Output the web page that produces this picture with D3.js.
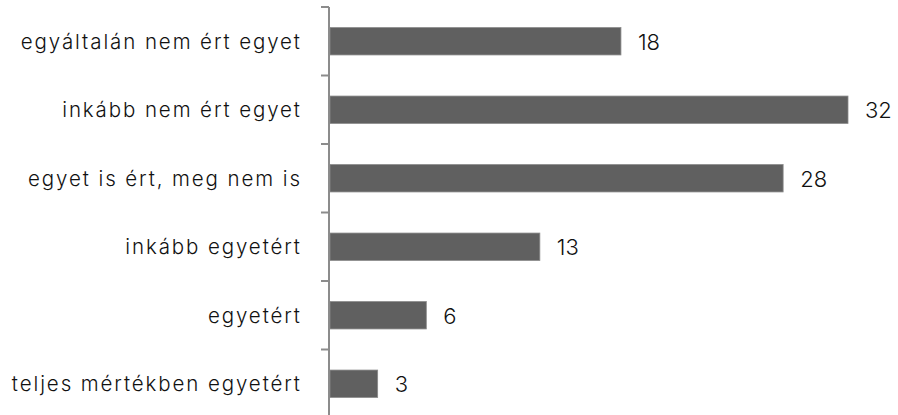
<!DOCTYPE html>
<html><head><meta charset="utf-8">
<script src="https://cdn.jsdelivr.net/npm/d3@7"></script>
<style>body{margin:0;background:#fff}svg{display:block}text{font-family:Inter,"Noto Sans",sans-serif;font-weight:300}</style>
</head><body>
<svg id="c" width="898" height="415"></svg>
<script>
const categories = ["egyáltalán nem ért egyet","inkább nem ért egyet","egyet is ért, meg nem is","inkább egyetért","egyetért","teljes mértékben egyetért"];
const values = [18,32,28,13,6,3];

const svg = d3.select("#c");
const axisX = 329;
const x = d3.scaleLinear().domain([0,32]).range([axisX, 848]);
const y = d3.scaleBand().domain(categories).range([7, 418]).paddingInner(0.6).paddingOuter(0.3);

svg.append("line").attr("x1",axisX).attr("x2",axisX).attr("y1",7).attr("y2",415).attr("stroke","#8c8c8c").attr("stroke-width",2);
const step = y.step();
const bounds = d3.range(categories.length).map(i => y(categories[i]) - step*0.3);
svg.selectAll(".tk").data(bounds).join("line").attr("class","tk")
  .attr("x1",axisX-8).attr("x2",axisX).attr("y1",d=>d).attr("y2",d=>d)
  .attr("stroke","#8c8c8c").attr("stroke-width",2);

svg.selectAll(".bar").data(values).join("rect").attr("class","bar")
  .attr("x",axisX+1).attr("y",(d,i)=>y(categories[i]))
  .attr("width",d=>x(d)-axisX-1).attr("height",y.bandwidth())
  .attr("fill","#606060").attr("stroke","#8a8a8a").attr("stroke-width",0.8);

svg.selectAll(".val").data(values).join("text").attr("class","val")
  .attr("x",d=>x(d)+17).attr("y",(d,i)=>y(categories[i])+y.bandwidth()/2)
  .attr("dy","0.38em").attr("font-size",22).attr("fill","#111").text(d=>d);

svg.selectAll(".cat").data(categories).join("text").attr("class","cat")
  .attr("x",300+1.9).attr("y",d=>y(d)+y.bandwidth()/2)
  .attr("dy","0.36em").attr("text-anchor","end").attr("font-size",20.5)
  .attr("letter-spacing",1.9).attr("fill","#111").text(d=>d);
</script>
</body></html>
